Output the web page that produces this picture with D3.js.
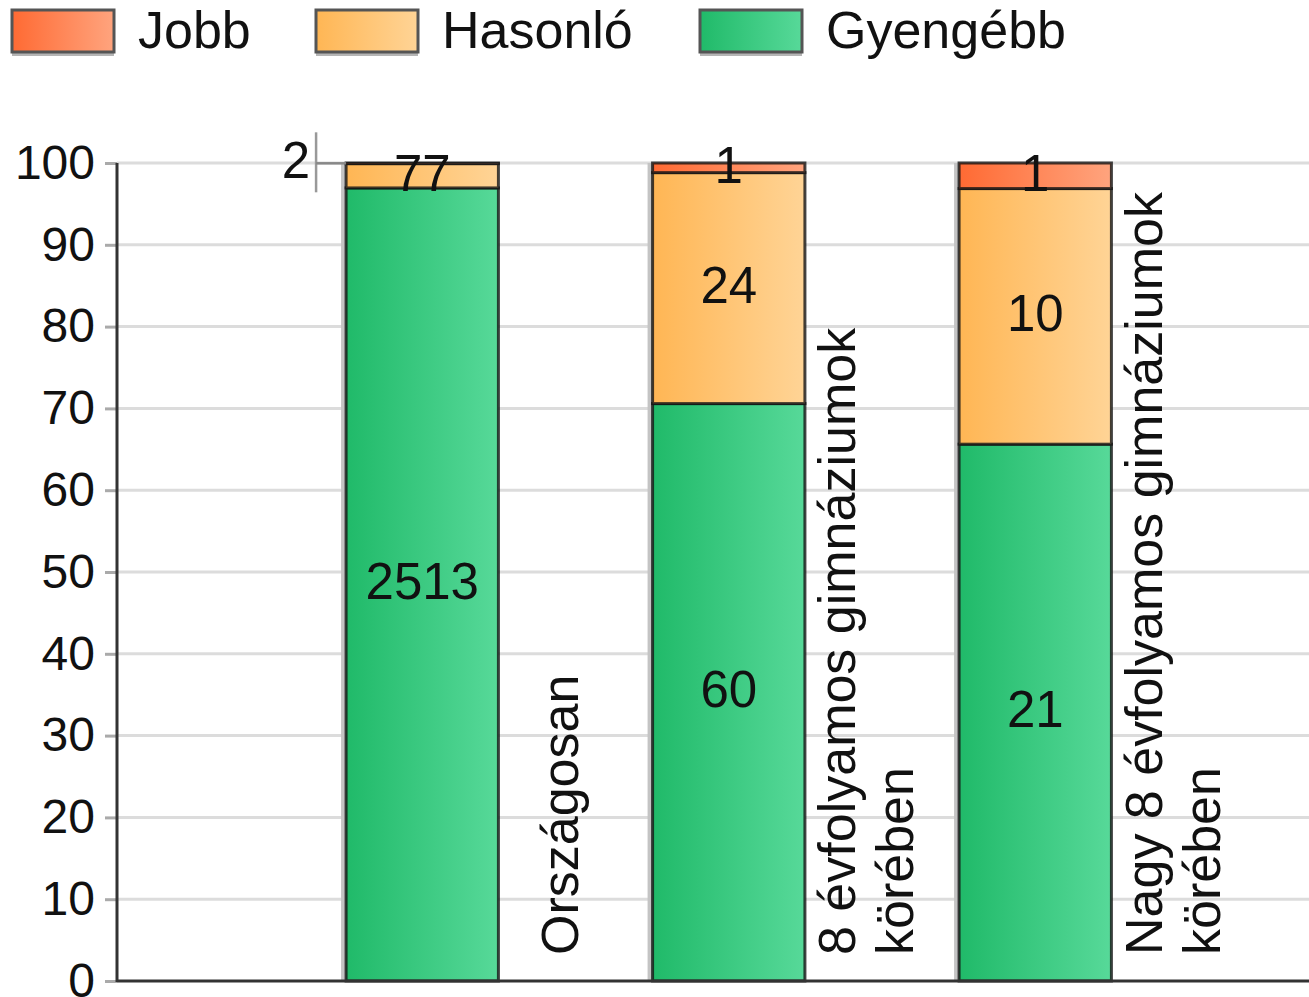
<!DOCTYPE html>
<html><head><meta charset="utf-8">
<script src="https://cdn.jsdelivr.net/npm/d3@7"></script>
<style>body{margin:0;background:#fff}svg{display:block;font-family:"Liberation Sans",Arial,sans-serif}</style>
</head><body>
<svg id="c" width="1309" height="997"></svg>
<script>
const categories = ["Országosan", "8 évfolyamos gimnáziumok körében", "Nagy 8 évfolyamos gimnáziumok körében"];
const categoryLines = [["Országosan"], ["8 évfolyamos gimnáziumok", "körében"], ["Nagy 8 évfolyamos gimnáziumok", "körében"]];
const seriesNames = ["Jobb", "Hasonló", "Gyengébb"];
const jobb = [2, 1, 1];
const hasonlo = [77, 24, 10];
const gyengebb = [2513, 60, 21];
const yTicks = [0, 10, 20, 30, 40, 50, 60, 70, 80, 90, 100];

const colors = {
  "Jobb": ["#ff6a33", "#ffa47e"],
  "Hasonló": ["#ffb654", "#ffd496"],
  "Gyengébb": ["#20ba69", "#57d999"]
};

const rows = categories.map((c, i) => ({cat: c, "Jobb": jobb[i], "Hasonló": hasonlo[i], "Gyengébb": gyengebb[i]}));
const stack = d3.stack().keys(["Gyengébb", "Hasonló", "Jobb"]).offset(d3.stackOffsetExpand);
const layers = stack(rows);

const svg = d3.select("#c");
const defs = svg.append("defs");
seriesNames.forEach((s, i) => {
  const g = defs.append("linearGradient").attr("id", "g" + i).attr("x1", "0%").attr("x2", "100%").attr("y1", "0%").attr("y2", "0%");
  g.append("stop").attr("offset", "0%").attr("stop-color", colors[s][0]);
  g.append("stop").attr("offset", "100%").attr("stop-color", colors[s][1]);
});
const gradId = s => "url(#g" + seriesNames.indexOf(s) + ")";

const x0 = 117, x1 = 1309;
const y = d3.scaleLinear().domain([0, 100]).range([981, 163]);
const x = d3.scaleBand().domain(categories).range([269, 1188.5]).padding(0);
const barW = x.bandwidth() * 0.497;
const barLeft = c => x(c) + (x.bandwidth() - barW) / 2;

// gridlines
svg.append("g").selectAll("line").data(yTicks.filter(t => t > 0)).join("line")
  .attr("x1", x0).attr("x2", x1).attr("y1", d => y(d)).attr("y2", d => y(d))
  .attr("stroke", "#dcdcdc").attr("stroke-width", 3);

// y axis
const yAxis = d3.axisLeft(y).tickValues(yTicks).tickSize(12).tickPadding(10).tickFormat(d3.format("d"));
const ya = svg.append("g").attr("transform", `translate(${x0},0)`).call(yAxis);
ya.select(".domain").remove();
ya.selectAll(".tick line").attr("stroke", "#aaa").attr("stroke-width", 3);
ya.selectAll(".tick text").attr("font-size", 48).attr("fill", "#111").attr("font-family", "Liberation Sans, Arial, sans-serif");

// bar shadows
svg.append("g").selectAll("rect").data(categories).join("rect")
  .attr("x", c => barLeft(c) - 5).attr("y", y(100)).attr("width", 6).attr("height", y(0) - y(100))
  .attr("fill", "#c4c4c4");

// bars
layers.forEach(layer => {
  const key = layer.key;
  svg.append("g").selectAll("rect").data(layer).join("rect")
    .attr("x", d => barLeft(d.data.cat))
    .attr("y", d => y(d[1] * 100))
    .attr("width", barW)
    .attr("height", d => Math.max(0, y(d[0] * 100) - y(d[1] * 100)))
    .attr("fill", gradId(key))
    .attr("stroke", "rgba(20,20,20,0.8)")
    .attr("stroke-width", 3);
});

// axis lines
svg.append("line").attr("x1", x0).attr("x2", x0).attr("y1", y(100)).attr("y2", y(0) + 1)
  .attr("stroke", "#333").attr("stroke-width", 3);
svg.append("line").attr("x1", x0).attr("x2", x1).attr("y1", y(0)).attr("y2", y(0))
  .attr("stroke", "#333").attr("stroke-width", 3);

// value labels
const lbl = svg.append("g").attr("font-size", 51).attr("fill", "#111");
layers.forEach(layer => {
  layer.forEach(d => {
    const c = d.data.cat;
    const v = d.data[layer.key];
    const top = y(d[1] * 100), bot = y(d[0] * 100);
    const h = bot - top;
    const cx = barLeft(c) + barW / 2;
    if (h >= 3) {
      lbl.append("text").attr("x", cx).attr("y", (top + bot) / 2 - 3).attr("dy", "0.35em")
        .attr("text-anchor", "middle").text(v);
    } else {
      const lx = barLeft(c) - 30, my = (top + bot) / 2;
      svg.append("line").attr("x1", lx).attr("x2", lx).attr("y1", my - 31).attr("y2", my + 29)
        .attr("stroke", "#999").attr("stroke-width", 2.5);
      svg.append("line").attr("x1", lx).attr("x2", barLeft(c)).attr("y1", my).attr("y2", my)
        .attr("stroke", "#888").attr("stroke-width", 2.5);
      lbl.append("text").attr("x", lx - 6).attr("y", my - 3).attr("dy", "0.35em")
        .attr("text-anchor", "end").text(v);
    }
  });
});

// category labels (rotated)
const cl = svg.append("g").attr("font-size", 52).attr("fill", "#111");
categories.forEach((c, i) => {
  const lines = categoryLines[i];
  const gc = x(c) + x.bandwidth();
  const n = lines.length;
  lines.forEach((ln, j) => {
    const bx = gc - 16 + (j - (n - 1) / 2) * 58 + 18;
    cl.append("text").attr("transform", `translate(${bx},955) rotate(-90)`)
      .attr("text-anchor", "start").text(ln);
  });
});

// legend
const legendX = [12, 316, 700];
const lg = svg.append("g");
seriesNames.forEach((s, i) => {
  lg.append("rect").attr("x", legendX[i]).attr("y", 14).attr("width", 102).attr("height", 42).attr("fill", "#b5b5b5");
  lg.append("rect").attr("x", legendX[i]).attr("y", 10).attr("width", 102).attr("height", 42)
    .attr("fill", gradId(s)).attr("stroke", "#555").attr("stroke-width", 3);
  lg.append("text").attr("x", legendX[i] + 126).attr("y", 48).attr("font-size", 52).attr("fill", "#111").text(s);
});
</script>
</body></html>
